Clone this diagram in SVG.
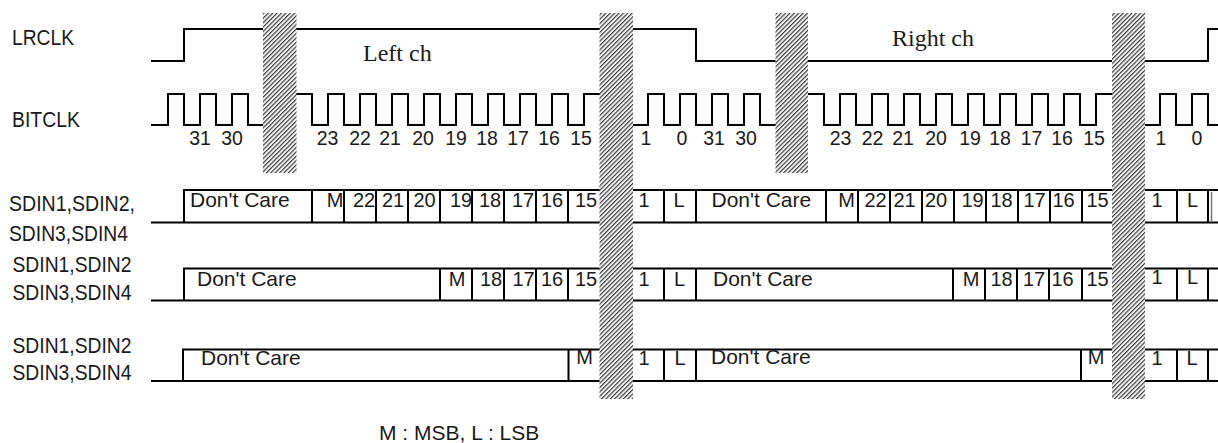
<svg xmlns="http://www.w3.org/2000/svg" width="1218" height="443" viewBox="0 0 1218 443">
<style>
.w{fill:none;stroke:#000;stroke-width:2;stroke-linejoin:miter;stroke-linecap:square}
.lb{font-family:"Liberation Sans",Arial,sans-serif;font-size:21.5px;fill:#1a1a1a}
.n{font-family:"Liberation Sans",Arial,sans-serif;font-size:19.5px;fill:#1a1a1a;text-anchor:middle}
.b{font-family:"Liberation Sans",Arial,sans-serif;font-size:20px;fill:#1a1a1a;text-anchor:middle}
.dc{font-family:"Liberation Sans",Arial,sans-serif;font-size:21px;fill:#1a1a1a}
.ch{font-family:"Liberation Serif","Times New Roman",serif;font-size:24px;fill:#1a1a1a}
.h{fill:url(#hatch)}
</style>
<defs>
<pattern id="hatch" patternUnits="userSpaceOnUse" width="3.1" height="6" patternTransform="rotate(45)">
<rect x="0" y="0" width="3.1" height="6" fill="#f4f4f4"/>
<rect x="0" y="0" width="1.15" height="6" fill="#3c3c3c"/>
</pattern>
</defs>

<g id="labels">
<text class="lb" x="12" y="45" textLength="62" lengthAdjust="spacingAndGlyphs">LRCLK</text>
<text class="lb" x="12" y="127" textLength="68" lengthAdjust="spacingAndGlyphs">BITCLK</text>
<text class="lb" x="9" y="211" textLength="126" lengthAdjust="spacingAndGlyphs">SDIN1,SDIN2,</text>
<text class="lb" x="9" y="241" textLength="119" lengthAdjust="spacingAndGlyphs">SDIN3,SDIN4</text>
<text class="lb" x="12.5" y="272" textLength="119" lengthAdjust="spacingAndGlyphs">SDIN1,SDIN2</text>
<text class="lb" x="12.5" y="300" textLength="119" lengthAdjust="spacingAndGlyphs">SDIN3,SDIN4</text>
<text class="lb" x="12.5" y="352.5" textLength="119" lengthAdjust="spacingAndGlyphs">SDIN1,SDIN2</text>
<text class="lb" x="12.5" y="380" textLength="119" lengthAdjust="spacingAndGlyphs">SDIN3,SDIN4</text>
</g>

<g id="lrclk">
<path class="w" d="M152,61 H184 V29 H263 M297,29 H599 M633,29 H696 V61 H776 M808,61 H1112 M1145,61 H1208 V29 H1218"/>
<text class="ch" x="363" y="61">Left ch</text>
<text class="ch" x="892" y="46">Right ch</text>
</g>

<g id="bitclk">
<path class="w" d="M152,125 H168 V94 H184 V125 H200 V94 H216 V125 H232 V94 H248 V125 H263
M297,94 H312 V125 H328 V94 H344 V125 H360 V94 H376 V125 H392 V94 H408 V125 H424 V94 H440 V125 H456 V94 H472 V125 H488 V94 H504 V125 H520 V94 H536 V125 H552 V94 H568 V125 H584 V94 H599
M633,125 H648 V94 H664 V125 H680 V94 H696 V125 H712 V94 H728 V125 H744 V94 H760 V125 H776
M808,94 H824 V125 H840 V94 H856 V125 H872 V94 H888 V125 H904 V94 H920 V125 H936 V94 H952 V125 H968 V94 H984 V125 H1000 V94 H1016 V125 H1032 V94 H1048 V125 H1064 V94 H1080 V125 H1096 V94 H1112
M1145,125 H1160 V94 H1176 V125 H1192 V94 H1208 V125 H1218"/>
<g>
<text class="n" x="200" y="145">31</text>
<text class="n" x="232" y="145">30</text>
<text class="n" x="327.5" y="145">23</text>
<text class="n" x="360" y="145">22</text>
<text class="n" x="390" y="145">21</text>
<text class="n" x="423" y="145">20</text>
<text class="n" x="456" y="145">19</text>
<text class="n" x="487" y="145">18</text>
<text class="n" x="518" y="145">17</text>
<text class="n" x="549" y="145">16</text>
<text class="n" x="581" y="145">15</text>
<text class="n" x="646" y="145">1</text>
<text class="n" x="682" y="145">0</text>
<text class="n" x="714" y="145">31</text>
<text class="n" x="746" y="145">30</text>
<text class="n" x="840.5" y="145">23</text>
<text class="n" x="872.5" y="145">22</text>
<text class="n" x="903" y="145">21</text>
<text class="n" x="936" y="145">20</text>
<text class="n" x="970" y="145">19</text>
<text class="n" x="1000" y="145">18</text>
<text class="n" x="1031.5" y="145">17</text>
<text class="n" x="1062" y="145">16</text>
<text class="n" x="1094" y="145">15</text>
<text class="n" x="1161" y="145">1</text>
<text class="n" x="1197" y="145">0</text>
</g>
</g>

<g id="sdin-row1">
<path class="w" d="M152,222.5 H184 V190 H599 M184,222.5 H599
M312,190 V222.5 M344,190 V222.5 M376,190 V222.5 M408,190 V222.5 M440,190 V222.5 M472,190 V222.5 M504,190 V222.5 M536,190 V222.5 M568,190 V222.5
M633,190 H1112 M633,222.5 H1112
M664,190 V222.5 M696,190 V222.5 M826,190 V222.5 M858,190 V222.5 M890,190 V222.5 M922,190 V222.5 M954,190 V222.5 M986,190 V222.5 M1018,190 V222.5 M1050,190 V222.5 M1082,190 V222.5
M1145,190 H1218 M1145,222.5 H1218 M1177,190 V222.5 M1208,190 V222.5"/>
<path d="M1211.5,192 V221" fill="none" stroke="#777" stroke-width="1.5"/>
<text class="dc" x="190" y="207">Don't Care</text>
<text class="b" x="335" y="207">M</text>
<text class="b" x="364" y="207">22</text>
<text class="b" x="393" y="207">21</text>
<text class="b" x="424.5" y="207">20</text>
<text class="b" x="461" y="207">19</text>
<text class="b" x="490" y="207">18</text>
<text class="b" x="523" y="207">17</text>
<text class="b" x="552" y="207">16</text>
<text class="b" x="586" y="207">15</text>
<text class="b" x="644" y="207">1</text>
<text class="b" x="679" y="207">L</text>
<text class="dc" x="711.5" y="207">Don't Care</text>
<text class="b" x="846.5" y="207">M</text>
<text class="b" x="875.5" y="207">22</text>
<text class="b" x="904.5" y="207">21</text>
<text class="b" x="936" y="207">20</text>
<text class="b" x="972.5" y="207">19</text>
<text class="b" x="1001.5" y="207">18</text>
<text class="b" x="1034.5" y="207">17</text>
<text class="b" x="1063.5" y="207">16</text>
<text class="b" x="1097.5" y="207">15</text>
<text class="b" x="1157" y="207">1</text>
<text class="b" x="1192.5" y="207">L</text>
</g>

<g id="sdin-row2">
<path class="w" d="M152,300.5 H184 V268.5 H599 M184,300.5 H599
M440,268.5 V300.5 M472,268.5 V300.5 M504,268.5 V300.5 M536,268.5 V300.5 M568,268.5 V300.5
M633,268.5 H1112 M633,300.5 H1112
M664,268.5 V300.5 M696,268.5 V300.5 M953,268.5 V300.5 M985,268.5 V300.5 M1017,268.5 V300.5 M1049,268.5 V300.5 M1082,268.5 V300.5
M1145,268.5 H1218 M1145,300.5 H1218 M1177,268.5 V300.5 M1208,268.5 V300.5"/>
<text class="dc" x="197" y="286">Don't Care</text>
<text class="b" x="457" y="286">M</text>
<text class="b" x="491" y="286">18</text>
<text class="b" x="523.5" y="286">17</text>
<text class="b" x="552" y="286">16</text>
<text class="b" x="586" y="286">15</text>
<text class="b" x="644" y="286">1</text>
<text class="b" x="679.5" y="286">L</text>
<text class="dc" x="713" y="286">Don't Care</text>
<text class="b" x="971" y="286">M</text>
<text class="b" x="1001.5" y="286">18</text>
<text class="b" x="1034" y="286">17</text>
<text class="b" x="1062.5" y="286">16</text>
<text class="b" x="1097.5" y="286">15</text>
<text class="b" x="1157" y="284">1</text>
<text class="b" x="1192.5" y="284">L</text>
</g>

<g id="sdin-row3">
<path class="w" d="M152,381 H183 V349.5 H600 M183,381 H600 M568.5,349.5 V381
M633,349.5 H1112 M633,381 H1112
M664,349.5 V381 M696,349.5 V381 M1081,349.5 V381
M1145,349.5 H1218 M1145,381 H1218 M1177,349.5 V381 M1208,349.5 V381"/>
<text class="dc" x="201" y="365">Don't Care</text>
<text class="b" x="584.5" y="364">M</text>
<text class="b" x="644" y="365">1</text>
<text class="b" x="680" y="365">L</text>
<text class="dc" x="711" y="364">Don't Care</text>
<text class="b" x="1096" y="364">M</text>
<text class="b" x="1157" y="365">1</text>
<text class="b" x="1192" y="365">L</text>
</g>

<g id="hatches">
<rect class="h" x="263" y="13" width="33.5" height="160"/>
<rect class="h" x="599.5" y="13" width="33.5" height="386"/>
<rect class="h" x="775.5" y="13" width="32.5" height="160"/>
<rect class="h" x="1112" y="13" width="33" height="386"/>
</g>

<g id="legend">
<text class="dc" x="379" y="440">M : MSB, L : LSB</text>
</g>
</svg>
